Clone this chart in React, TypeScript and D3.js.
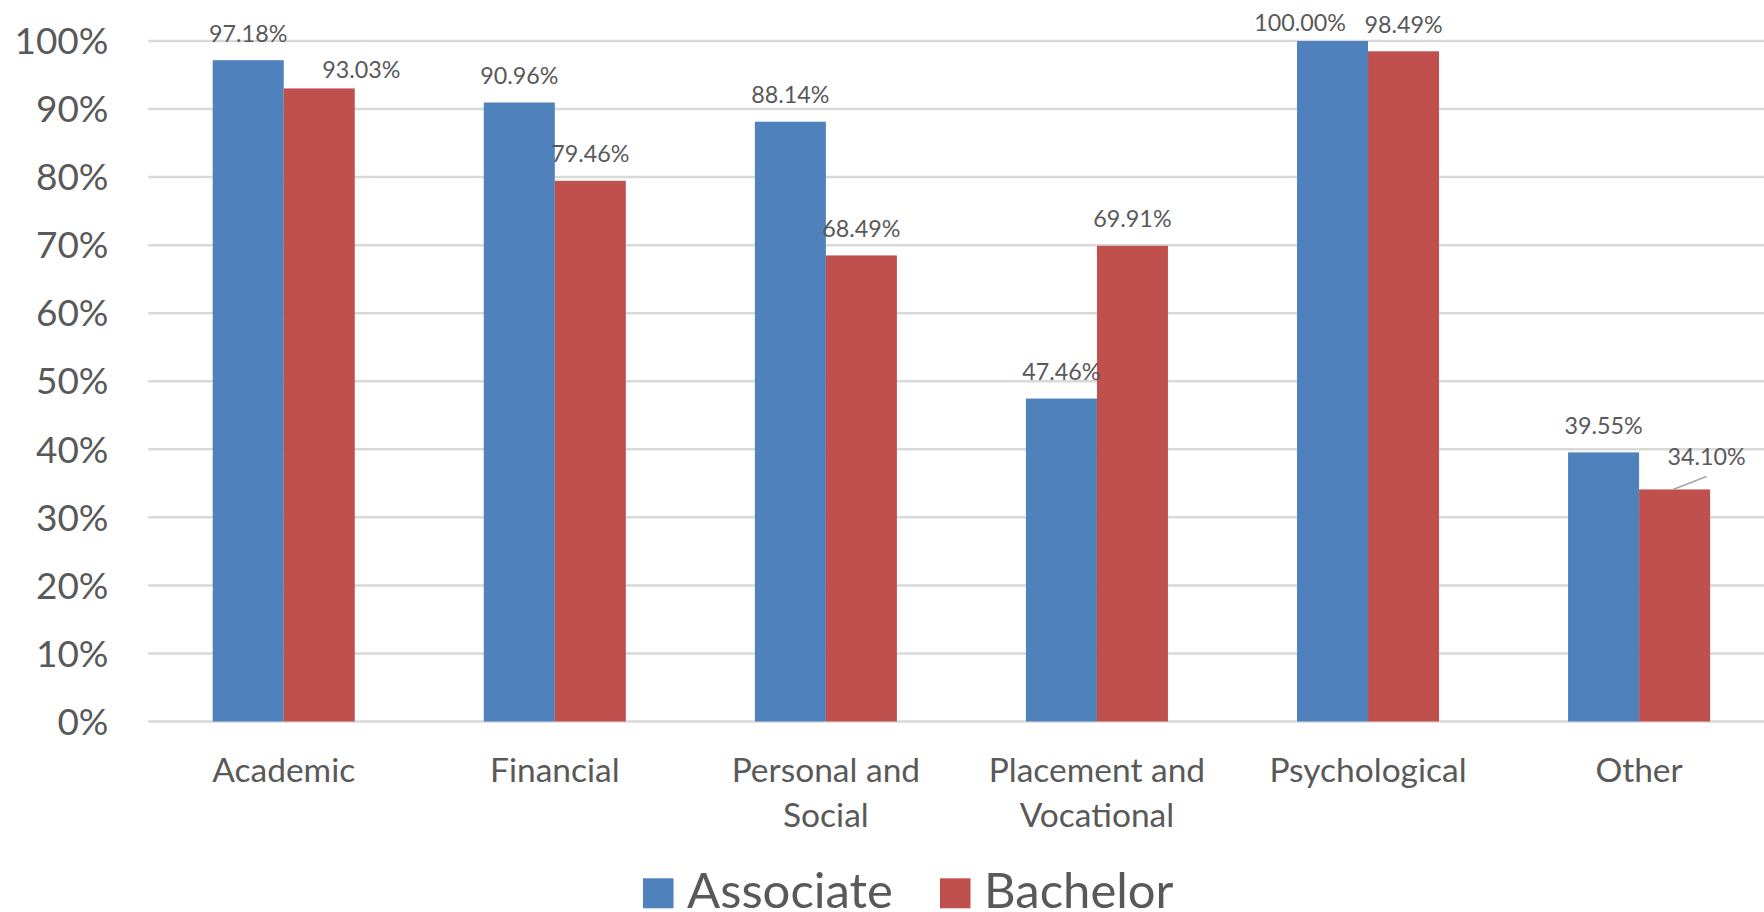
import React from "react";
import * as d3 from "d3";

const categories: string[][] = [
  ["Academic"],
  ["Financial"],
  ["Personal and", "Social"],
  ["Placement and", "Vocational"],
  ["Psychological"],
  ["Other"],
];
const seriesNames = ["Associate", "Bachelor"];
const associate = [97.18, 90.96, 88.14, 47.46, 100.0, 39.55];
const bachelor = [93.03, 79.46, 68.49, 69.91, 98.49, 34.1];
const yTicks = [0, 10, 20, 30, 40, 50, 60, 70, 80, 90, 100];
const colors = ["#4f81bd", "#c0504d"];

// label placement tweaks (series index, category index) -> dx, gap above bar, leader line
const labelNudges: Record<string, { dx: number; gap: number; leader?: boolean }> = {
  "1-0": { dx: 42, gap: 10.5 },
  "0-4": { dx: -32.5, gap: 10 },
  "1-5": { dx: 32, gap: 24, leader: true },
};

const W = 1764;
const H = 912;
const FONT = "Lato, 'Open Sans', sans-serif";
const TEXT = "#595959";

export default function App() {
  const keys = categories.map((c) => c.join(" "));
  const x0 = d3
    .scaleBand<string>()
    .domain(keys)
    .range([148.2, 148.2 + 6 * 271.07])
    .paddingInner(0.476)
    .paddingOuter(0.238);
  const x1 = d3.scaleBand<string>().domain(seriesNames).range([0, x0.bandwidth()]).padding(0);
  const y = d3.scaleLinear().domain([0, 100]).range([721.5, 41]);
  const data = [associate, bachelor];

  return (
    <svg
      width={W}
      height={H}
      style={{ position: "absolute", left: 0, top: 0, background: "#fff" }}
      fontFamily={FONT}
    >
      <rect x={0} y={0} width={W} height={H} fill="#fff" />
      {yTicks.map((t) => (
        <g key={t}>
          <line x1={148.2} x2={W} y1={y(t)} y2={y(t)} stroke="#d9d9d9" strokeWidth={2.5} />
          <text x={108.5} y={y(t) + 13.2} textAnchor="end" fontSize={37} fill={TEXT}>
            {t}%
          </text>
        </g>
      ))}
      {data.map((vals, si) =>
        vals.map((v, ci) => {
          const bx = (x0(keys[ci]) ?? 0) + (x1(seriesNames[si]) ?? 0);
          return (
            <rect
              key={`b${si}-${ci}`}
              x={bx}
              y={y(v)}
              width={x1.bandwidth()}
              height={y(0) - y(v)}
              fill={colors[si]}
            />
          );
        })
      )}
      {data.map((vals, si) =>
        vals.map((v, ci) => {
          const cx = (x0(keys[ci]) ?? 0) + (x1(seriesNames[si]) ?? 0) + x1.bandwidth() / 2;
          const n = labelNudges[`${si}-${ci}`] ?? { dx: 0, gap: 18.5 };
          const ty = y(v) - n.gap;
          return (
            <g key={`l${si}-${ci}`}>
              {n.leader && (
                <line
                  x1={cx - 1.5}
                  y1={y(v)}
                  x2={cx + n.dx}
                  y2={y(v) - 13}
                  stroke="#a6a6a6"
                  strokeWidth={1.5}
                />
              )}
              <text x={cx + n.dx} y={ty} textAnchor="middle" fontSize={23.3} fill={TEXT}>
                {v.toFixed(2)}%
              </text>
            </g>
          );
        })
      )}
      {categories.map((lines, ci) => {
        const cx = (x0(keys[ci]) ?? 0) + x0.bandwidth() / 2;
        return (
          <text key={`c${ci}`} textAnchor="middle" fontSize={33.5} fill={TEXT}>
            {lines.map((ln, li) => (
              <tspan key={li} x={cx} y={781.7 + li * 45}>
                {ln}
              </tspan>
            ))}
          </text>
        );
      })}
      {seriesNames.map((s, si) => {
        const sx = [643, 940][si];
        return (
          <g key={`lg${si}`}>
            <rect x={sx} y={878.3} width={30.5} height={30} fill={colors[si]} />
            <text x={sx + 44} y={908.3} fontSize={49} fill={TEXT}>
              {s}
            </text>
          </g>
        );
      })}
    </svg>
  );
}
